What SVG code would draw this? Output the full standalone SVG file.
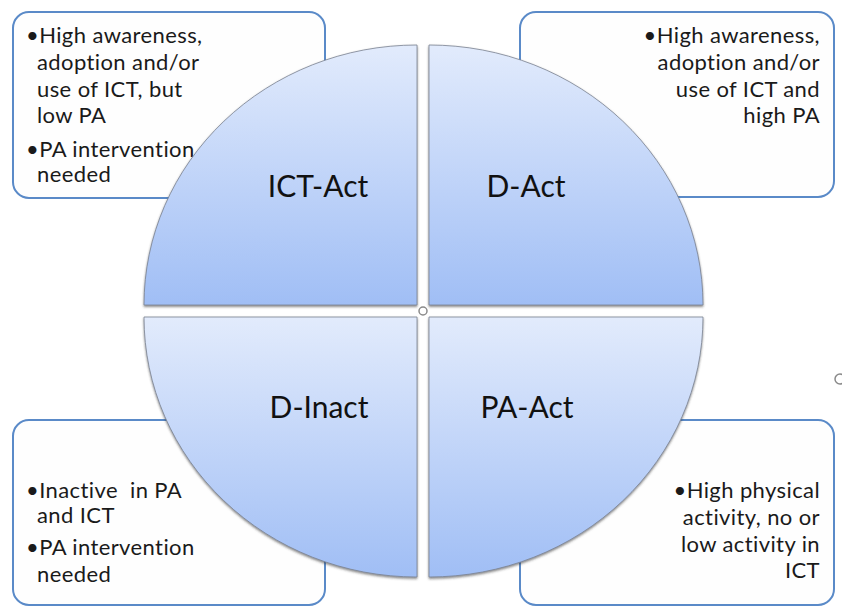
<svg xmlns="http://www.w3.org/2000/svg" width="842" height="607" viewBox="0 0 842 607">
<style>
.box{fill:#fefefe;stroke:#5a8ac8;stroke-width:2}
.q{stroke:#7a8290;stroke-width:0.8;filter:url(#sh)}
.lbl{font-family:Lato,"Open Sans","Liberation Sans",sans-serif;font-size:30px;fill:#111;text-anchor:middle}
.t{font-family:Lato,"Open Sans","Liberation Sans",sans-serif;font-size:22px;letter-spacing:0.4px;fill:#1a1a1a}
.r{text-anchor:end}
.handle{fill:#fff;stroke:#8a8a8a;stroke-width:1.5}
</style>
<defs>
<linearGradient id="g" x1="0" y1="0" x2="0" y2="1">
<stop offset="0" stop-color="#e2ebfc"/>
<stop offset="1" stop-color="#a0bef5"/>
</linearGradient>
<filter id="sh" x="-5%" y="-5%" width="110%" height="110%">
<feDropShadow dx="0" dy="1.5" stdDeviation="1" flood-color="#333" flood-opacity="0.6"/>
</filter>
</defs>
<rect width="842" height="607" fill="#fff"/>
<g id="box-tl"><rect class="box" x="13" y="12" width="312" height="186" rx="16"/>
<text class="t"><tspan x="26" y="43">•High awareness,</tspan><tspan x="37" y="70">adoption and/or</tspan><tspan x="37" y="97">use of ICT, but</tspan><tspan x="37" y="123">low PA</tspan><tspan x="26" y="157">•PA intervention</tspan><tspan x="37" y="182">needed</tspan></text></g>
<g id="box-tr"><rect class="box" x="520" y="12" width="314" height="185" rx="16"/>
<text class="t r"><tspan x="820" y="43">•High awareness,</tspan><tspan x="820" y="70">adoption and/or</tspan><tspan x="820" y="97">use of ICT and</tspan><tspan x="820" y="123">high PA</tspan></text></g>
<g id="box-bl"><rect class="box" x="13" y="420" width="312" height="185" rx="16"/>
<text class="t"><tspan x="26" y="498" xml:space="preserve">•Inactive  in PA</tspan><tspan x="37" y="523">and ICT</tspan><tspan x="26" y="555">•PA intervention</tspan><tspan x="37" y="582">needed</tspan></text></g>
<g id="box-br"><rect class="box" x="520" y="420" width="314" height="185" rx="16"/>
<text class="t r"><tspan x="820" y="498">•High physical</tspan><tspan x="820" y="525">activity, no or</tspan><tspan x="820" y="552">low activity in</tspan><tspan x="820" y="578">ICT</tspan></text></g>
<g id="ict-act"><path class="q" fill="url(#g)" d="M417,305 L144,305 A273,260 0 0 1 417,45 Z"/><text class="lbl" x="318" y="197">ICT-Act</text></g>
<g id="d-act"><path class="q" fill="url(#g)" d="M429,305 L429,45 A274,260 0 0 1 703,305 Z"/><text class="lbl" x="526" y="197">D-Act</text></g>
<g id="d-inact"><path class="q" fill="url(#g)" d="M417,317 L417,577 A273,260 0 0 1 144,317 Z"/><text class="lbl" x="319" y="418">D-Inact</text></g>
<g id="pa-act"><path class="q" fill="url(#g)" d="M429,317 L703,317 A274,260 0 0 1 429,577 Z"/><text class="lbl" x="527" y="418">PA-Act</text></g>
<g id="connectors"></g>
<g id="handles"><circle class="handle" cx="423" cy="311" r="4"/><circle class="handle" cx="840" cy="379" r="5"/></g>
</svg>
